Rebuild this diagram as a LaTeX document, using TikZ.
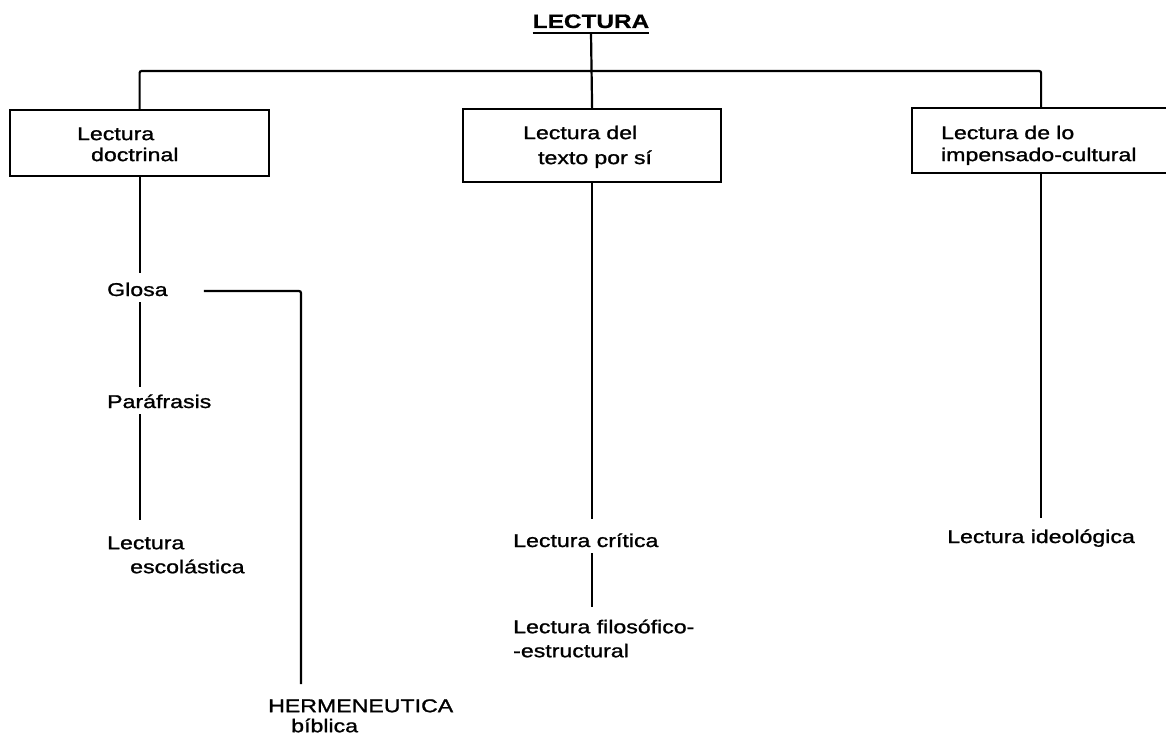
\documentclass[tikz,border=0pt]{standalone}
\usepackage{fontspec}
\setmainfont{Liberation Sans}[FakeStretch=1.25, UprightFeatures={FakeBold=1.2}, BoldFeatures={FakeBold=0.6}]
\begin{document}
\begin{tikzpicture}[x=1pt,y=-1pt,
  conn/.style={line width=2.2pt},
  lbl/.style={inner sep=0pt, font=\fontsize{18.5}{21}\selectfont, text height=14pt, text depth=4pt, anchor=base west},
  lbltwo/.style={inner sep=0pt, font=\fontsize{18.5}{21}\selectfont, align=left, anchor=north west},
  boxn/.style={draw, line width=2.2pt, inner sep=0pt, anchor=north west, align=left, font=\fontsize{18.5}{21}\selectfont},
  titlen/.style={inner sep=0pt, inner ysep=5pt, text depth=0pt, anchor=base, font=\fontsize{19.5}{22}\selectfont\bfseries}
]
\useasboundingbox (0,0) rectangle (1166,746);
\clip (0,0) rectangle (1166,746);

% title
\node[titlen] (title) at (591,28) {LECTURA};

% boxes
\node[boxn, text width=259pt, minimum height=66pt] (b1) at (9,109)
  {\rule{0pt}{16pt}\hspace*{67pt}Lectura\\\hspace*{81pt}doctrinal\rule[-1pt]{0pt}{1pt}};
\node[boxn, text width=258pt, minimum height=73pt] (b2) at (462,108)
  {\rule{0pt}{16pt}\hspace*{60pt}Lectura del\\[4pt]\hspace*{75pt}texto por sí\rule[-4pt]{0pt}{4pt}};
\node[boxn, text width=258pt, minimum height=65pt] (b3) at (911,107)
  {\rule{0pt}{23pt}\hspace*{29pt}Lectura de lo\\[1pt]\hspace*{29pt}impensado-cultural\rule[-4pt]{0pt}{4pt}};

% labels
\node[lbl] (glosa) at (107,296) {Glosa};
\node[lbl] (para) at (107,408) {Paráfrasis};
\node[lbltwo] (esc) at (107,531) {\rule{0pt}{18pt}Lectura\\[3pt]\hspace*{23pt}escolástica};
\node[lbltwo] (herm) at (268,694) {\rule{0pt}{18pt}HERMENEUTICA\\[-1pt]\hspace*{23pt}bíblica};
\node[lbl] (crit) at (513,547) {Lectura crítica};
\node[lbltwo] (filo) at (513,615) {\rule{0pt}{18pt}Lectura filosófico-\\[3pt]-estructural};
\node[lbl] (ideo) at (947,543) {Lectura ideológica};

% connectors
\coordinate (bus) at (591,71);
\draw[conn] (title.south west) -- (title.south east);
\draw[conn] (title.south) -- (b2.north);
\draw[conn, rounded corners=2pt] (b1.north) |- (bus) -| (b3.north);

\draw[conn, shorten >=9pt] (b1.south) -- (b1.south |- glosa.north);
\draw[conn, shorten <=2pt, shorten >=7pt] (b1.south |- glosa.south) -- (b1.south |- para.north);
\draw[conn, shorten <=2pt, shorten >=11pt] (b1.south |- para.south) -- (b1.south |- esc.north);
\draw[conn, rounded corners=2pt, shorten <=36pt, shorten >=10pt] (glosa.east) -| ([xshift=33pt]herm.north west);

\draw[conn, shorten >=14pt] (b2.south) -- (b2.south |- crit.north);
\draw[conn, shorten <=2pt, shorten >=8pt] (b2.south |- crit.south) -- (b2.south |- filo.north);

\draw[conn, shorten >=11pt] (b3.south) -- (b3.south |- ideo.north);
\end{tikzpicture}
\end{document}
